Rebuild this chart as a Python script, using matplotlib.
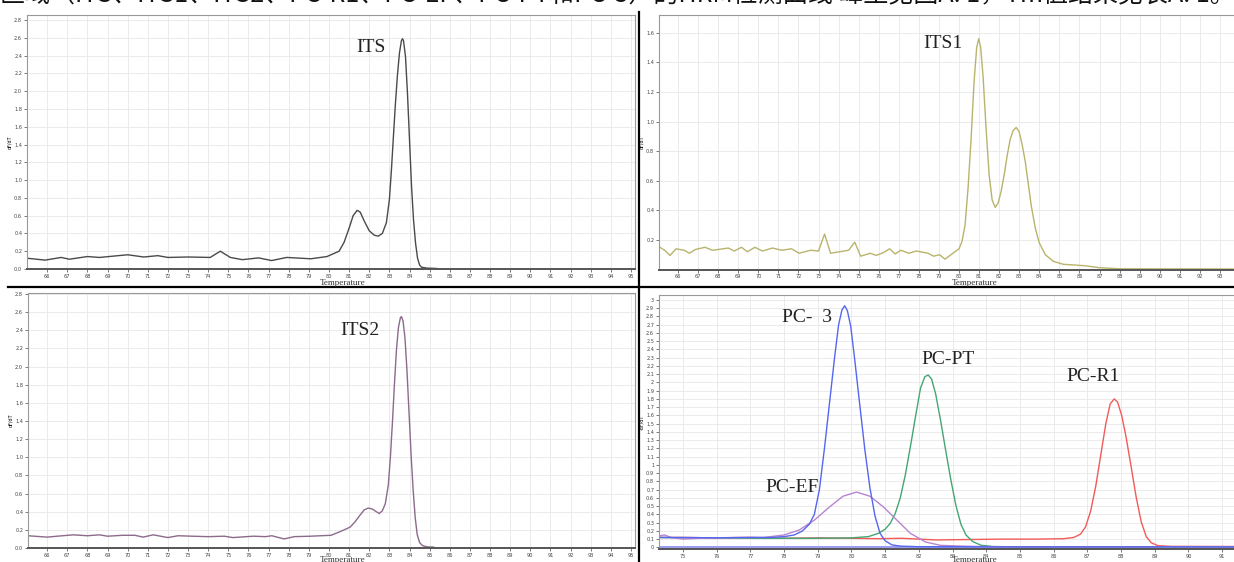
import matplotlib
matplotlib.use("Agg")
import matplotlib.pyplot as plt
from matplotlib.lines import Line2D
import numpy as np

W, H = 1234, 562

header = "区域（ITS、ITS1、ITS2、PC-R1、PC-EF、PC-PT和PC-3）的HRM检测曲线 峰型见图A. 1，Tm值结果见表A. 1。"

# ITS (top left)
its_t = [65.05, 65.9, 66.7, 67.1, 68.0, 68.6, 70.0, 70.8, 71.5, 72.0, 73.0, 74.1, 74.6, 75.1,
         75.7, 76.5, 77.15, 77.9, 79.1, 79.9, 80.5, 80.75, 81.0, 81.2, 81.4, 81.55, 81.75, 82.0,
         82.25, 82.45, 82.65, 82.85, 83.0, 83.1, 83.2, 83.3, 83.4, 83.5, 83.6, 83.65, 83.7, 83.8,
         83.9, 84.0, 84.1, 84.2, 84.3, 84.4, 84.5, 84.6, 84.85, 85.35]
its_v = [0.12, 0.10, 0.13, 0.11, 0.14, 0.13, 0.16, 0.135, 0.15, 0.13, 0.135, 0.13, 0.20, 0.13,
         0.105, 0.125, 0.095, 0.13, 0.115, 0.14, 0.20, 0.30, 0.46, 0.60, 0.66, 0.64, 0.54, 0.43,
         0.38, 0.37, 0.40, 0.52, 0.78, 1.11, 1.49, 1.86, 2.18, 2.43, 2.57, 2.59, 2.57, 2.39,
         1.97, 1.45, 0.93, 0.55, 0.29, 0.12, 0.045, 0.02, 0.01, 0.006]

# ITS1 (top right)
its1_t = [65.1, 65.33, 65.6, 65.9, 66.3, 66.57, 66.86, 67.34, 67.72, 68.5, 68.8, 69.16, 69.45,
          69.83, 70.2, 70.7, 71.17, 71.65, 72.03, 72.6, 73.0, 73.3, 73.6, 74.05, 74.5, 74.8,
          75.1, 75.58, 75.87, 76.25, 76.54, 76.82, 77.1, 77.5, 77.88, 78.45, 78.74, 79.03, 79.3,
          79.7, 80.0, 80.15, 80.3, 80.45, 80.6, 80.75, 80.88, 80.98, 81.08, 81.2, 81.35, 81.5,
          81.65, 81.8, 81.95, 82.1, 82.25, 82.4, 82.55, 82.7, 82.85, 83.0, 83.15, 83.3, 83.45,
          83.6, 83.8, 84.0, 84.3, 84.7, 85.2, 85.8, 86.3, 87.0, 88.0, 90.0, 92.0, 94.2]
its1_v = [0.15, 0.13, 0.095, 0.14, 0.13, 0.11, 0.135, 0.15, 0.13, 0.145, 0.125, 0.15, 0.12,
          0.15, 0.125, 0.145, 0.13, 0.14, 0.11, 0.13, 0.125, 0.24, 0.11, 0.12, 0.13, 0.185,
          0.09, 0.11, 0.095, 0.115, 0.14, 0.105, 0.13, 0.11, 0.125, 0.11, 0.09, 0.10, 0.07,
          0.11, 0.14, 0.19, 0.30, 0.55, 0.88, 1.27, 1.50, 1.56, 1.50, 1.30, 0.95, 0.64,
          0.47, 0.42, 0.45, 0.53, 0.64, 0.77, 0.88, 0.94, 0.96, 0.93, 0.84, 0.73, 0.58,
          0.43, 0.28, 0.18, 0.10, 0.055, 0.035, 0.03, 0.025, 0.012, 0.005, 0.004, 0.004, 0.003]

# ITS2 (bottom left)
its2_t = [65.05, 66.0, 66.5, 67.3, 68.0, 68.6, 69.0, 69.75, 70.36, 70.77, 71.27, 72.0, 72.5,
          73.2, 74.0, 74.8, 75.23, 76.24, 76.85, 77.16, 77.77, 78.27, 79.08, 80.1, 80.55, 81.05,
          81.3, 81.5, 81.75, 81.95, 82.15, 82.35, 82.5, 82.65, 82.8, 82.95, 83.05, 83.15, 83.25,
          83.35, 83.45, 83.55, 83.6, 83.68, 83.78, 83.88, 83.98, 84.08, 84.18, 84.28, 84.38,
          84.5, 84.65, 84.9, 85.2]
its2_v = [0.135, 0.12, 0.13, 0.145, 0.135, 0.145, 0.13, 0.14, 0.14, 0.12, 0.145, 0.115, 0.135,
          0.13, 0.125, 0.13, 0.115, 0.13, 0.125, 0.135, 0.10, 0.125, 0.13, 0.14, 0.18, 0.23,
          0.29, 0.35, 0.42, 0.44, 0.43, 0.40, 0.38, 0.41, 0.49, 0.70, 1.0, 1.38, 1.80,
          2.18, 2.43, 2.54, 2.55, 2.50, 2.30, 1.93, 1.47, 1.02, 0.64, 0.34, 0.15,
          0.06, 0.025, 0.012, 0.01]

# PC primers (bottom right)
pc3_t = [74.3, 75.0, 76.0, 77.0, 77.6, 78.0, 78.3, 78.55, 78.75, 78.9, 79.05, 79.2, 79.35, 79.5,
         79.62, 79.72, 79.8, 79.88, 79.98, 80.1, 80.25, 80.4, 80.55, 80.7, 80.85, 81.0, 81.2,
         81.45, 82.0, 85.0, 91.7]
pc3_v = [0.12, 0.12, 0.115, 0.12, 0.12, 0.13, 0.15, 0.20, 0.28, 0.40, 0.70, 1.20, 1.75, 2.30,
         2.70, 2.88, 2.93, 2.87, 2.68, 2.27, 1.72, 1.18, 0.72, 0.38, 0.17, 0.08, 0.03,
         0.015, 0.008, 0.006, 0.006]

pcpt_t = [74.3, 75.0, 76.0, 77.0, 78.0, 79.0, 80.0, 80.5, 80.8, 81.0, 81.15, 81.3, 81.45, 81.6,
          81.75, 81.9, 82.05, 82.18, 82.28, 82.38, 82.5, 82.65, 82.8, 82.95, 83.1, 83.25, 83.4,
          83.6, 83.85, 84.2, 85.0, 91.7]
pcpt_v = [0.12, 0.115, 0.115, 0.11, 0.11, 0.11, 0.115, 0.13, 0.17, 0.22, 0.29, 0.41, 0.60, 0.88,
          1.22, 1.58, 1.93, 2.07, 2.09, 2.04, 1.86, 1.53, 1.17, 0.82, 0.51, 0.28, 0.15,
          0.07, 0.025, 0.01, 0.006, 0.006]

pcr1_t = [74.3, 75.0, 76.0, 77.0, 78.0, 79.0, 80.0, 80.8, 81.5, 82.5, 83.5, 84.5, 85.5, 86.3,
          86.6, 86.8, 86.95, 87.1, 87.25, 87.4, 87.55, 87.68, 87.8, 87.9, 88.02, 88.15, 88.3,
          88.45, 88.6, 88.75, 88.9, 89.1, 89.5, 91.7]
pcr1_v = [0.12, 0.12, 0.115, 0.12, 0.11, 0.115, 0.11, 0.105, 0.11, 0.09, 0.095, 0.10, 0.10, 0.105,
          0.12, 0.16, 0.25, 0.44, 0.74, 1.12, 1.50, 1.74, 1.80, 1.76, 1.60, 1.34, 0.98,
          0.61, 0.31, 0.13, 0.055, 0.02, 0.012, 0.01]

pcef_t = [74.3, 74.45, 74.65, 75.0, 75.5, 76.5, 77.4, 78.0, 78.45, 78.9, 79.35, 79.75, 80.15,
          80.55, 80.95, 81.35, 81.75, 82.2, 82.65, 83.2, 84.0, 91.7]
pcef_v = [0.14, 0.15, 0.12, 0.10, 0.11, 0.12, 0.12, 0.15, 0.21, 0.33, 0.49, 0.62, 0.67,
          0.62, 0.49, 0.33, 0.17, 0.065, 0.024, 0.016, 0.008, 0.006]

ctrl_t = [74.3, 91.7]
ctrl_v = [0.003, 0.003]

fig = plt.figure(figsize=(W / 100, H / 100), dpi=100)
fig.patch.set_facecolor("white")


def add_px_axes(l, t, r, b):
    return fig.add_axes([l / W, 1 - b / H, (r - l) / W, (b - t) / H])


def style(ax, xticks, yticks, yfmt):
    ax.set_xticks(xticks)
    ax.set_xticklabels([str(x) for x in xticks])
    ax.set_yticks(yticks)
    ax.set_yticklabels([yfmt % y for y in yticks])
    ax.grid(True, color="#e8e8e8", lw=0.6)
    ax.set_axisbelow(True)
    ax.tick_params(labelsize=3.6, length=2, width=0.5, pad=1.5, colors="#444")
    for s in ["top", "right", "left"]:
        ax.spines[s].set_color("#999")
        ax.spines[s].set_linewidth(0.8)
    ax.spines["bottom"].set_color("#555")
    ax.spines["bottom"].set_linewidth(1.4)
    ax.set_ylabel("dF/dT", fontsize=3.5, labelpad=1)


serif = "Liberation Serif"

# top left: ITS
ax1 = add_px_axes(27, 15, 635, 269)
ax1.plot(its_t, its_v, color="#4a4a4a", lw=1.0)
ax1.set_xlim(65.0, 95.2)
ax1.set_ylim(0, 2.857)
style(ax1, list(range(66, 96)), list(np.round(np.arange(0, 2.81, 0.2), 1)), "%.1f")
ax1.text(82.1, 2.49, "ITS", family=serif, fontsize=14, ha="center", va="center", color="#222")

# top right: ITS1
ax2 = add_px_axes(659, 15, 1245, 269.5)
ax2.plot(its1_t, its1_v, color="#b8b46c", lw=1.0)
ax2.set_xlim(65.05, 94.25)
ax2.set_ylim(0, 1.72)
style(ax2, list(range(66, 94)), list(np.round(np.arange(0.2, 1.61, 0.2), 1)), "%.1f")
ax2.text(79.2, 1.53, "ITS1", family=serif, fontsize=14, ha="center", va="center", color="#222")

# bottom left: ITS2
ax3 = add_px_axes(28, 293, 635, 548)
ax3.plot(its2_t, its2_v, color="#8c6a8c", lw=1.0)
ax3.set_xlim(65.05, 95.2)
ax3.set_ylim(0, 2.81)
style(ax3, list(range(66, 96)), list(np.round(np.arange(0, 2.81, 0.2), 1)), "%.1f")
ax3.text(81.55, 2.40, "ITS2", family=serif, fontsize=14, ha="center", va="center", color="#222")

# bottom right: PC primers
ax4 = add_px_axes(659, 295, 1245, 549)
ax4.plot(ctrl_t, ctrl_v, color="#9a9af2", lw=1.4)
ax4.plot(pcr1_t, pcr1_v, color="#f25a5a", lw=1.0)
ax4.plot(pcpt_t, pcpt_v, color="#45a575", lw=1.0)
ax4.plot(pcef_t, pcef_v, color="#b884d0", lw=1.0)
ax4.plot(pc3_t, pc3_v, color="#5566f0", lw=1.0)
ax4.set_xlim(74.29, 91.68)
ax4.set_ylim(-0.02, 3.06)
style(ax4, list(range(75, 92)), list(np.round(np.arange(0, 3.01, 0.1), 1)), "%g")
ax4.set_ylabel("-dF/dT", fontsize=3.5, labelpad=1)
for name, x, y in [("PC-  3", 78.68, 2.79), ("PC-PT", 82.86, 2.28),
                   ("PC-R1", 87.16, 2.07), ("PC-EF", 78.23, 0.73)]:
    ax4.text(x, y, name, family=serif, fontsize=14, ha="center", va="center", color="#222")

# x axis titles
for px, py in [(343, 283), (975, 283), (343, 560), (975, 560)]:
    fig.text(px / W, 1 - py / H, "Temperature", family=serif, fontsize=6.5,
             ha="center", va="center", color="#333")

# frame lines between panels
fig.add_artist(Line2D([638.5 / W, 638.5 / W], [0, 1 - 12 / H], color="black", lw=1.6))
fig.add_artist(Line2D([8 / W, 1], [1 - 286.5 / H, 1 - 286.5 / H], color="black", lw=1.6))

# cut-off caption line at the top of the page
fig.text(0.0, 1 + 5 / H, header, family=["Noto Sans CJK SC", "DejaVu Sans"], fontsize=18,
         ha="left", va="center", color="#111")

fig.savefig("out.png", dpi=100, facecolor="white")
